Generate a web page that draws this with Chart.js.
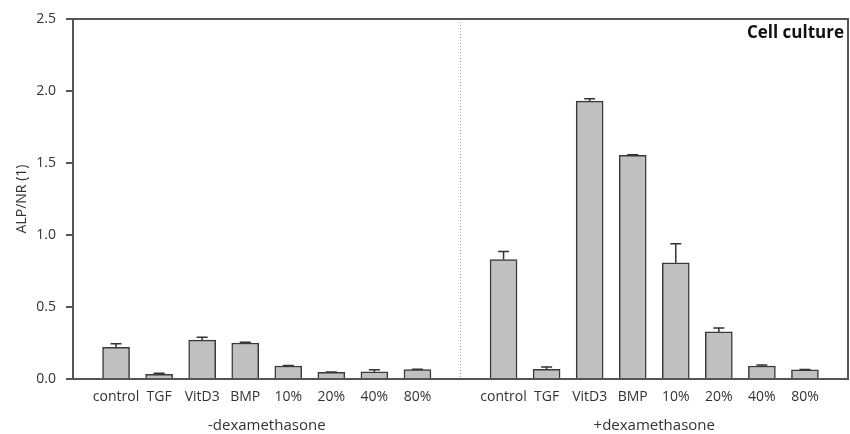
<!DOCTYPE html>
<html>
<head>
<meta charset="utf-8">
<script src="https://cdn.jsdelivr.net/npm/chart.js@4.4.1/dist/chart.umd.min.js"></script>
<style>
  html, body { margin: 0; padding: 0; background: #fff; }
  #wrap { width: 850px; height: 434px; }
</style>
</head>
<body>
<div id="wrap"><canvas id="chart" width="850" height="434"></canvas></div>
<script>
const categories = ['control', 'TGF', 'VitD3', 'BMP', '10%', '20%', '40%', '80%'];
const groupNames = ['-dexamethasone', '+dexamethasone'];

const minusDex = [0.22, 0.033, 0.27, 0.25, 0.09, 0.047, 0.049, 0.065];
const minusDexErr = [0.025, 0.007, 0.02, 0.005, 0.003, 0.002, 0.016, 0.003];
const plusDex = [0.83, 0.067, 1.93, 1.553, 0.807, 0.327, 0.09, 0.063];
const plusDexErr = [0.055, 0.016, 0.017, 0.005, 0.132, 0.027, 0.007, 0.003];

const yTicks = [0, 0.5, 1.0, 1.5, 2.0, 2.5];

// one blank slot on each side and one between the groups
const labels = [''].concat(categories, [''], categories, ['']);
const values = [null].concat(minusDex, [null], plusDex, [null]);
const errors = [null].concat(minusDexErr, [null], plusDexErr, [null]);

const font = '"Open Sans", "DejaVu Sans", sans-serif';

const extras = {
    id: 'extras',
    afterDatasetsDraw(chart) {
        const ctx = chart.ctx;
        const a = chart.chartArea;
        const x = chart.scales.x;
        const y = chart.scales.y;
        ctx.save();

        // error bars (upper only)
        ctx.strokeStyle = '#333';
        ctx.lineWidth = 1.5;
        errors.forEach((e, i) => {
            if (e == null) return;
            const px = x.getPixelForValue(i);
            const y0 = y.getPixelForValue(values[i]);
            const y1 = y.getPixelForValue(values[i] + e);
            ctx.beginPath();
            ctx.moveTo(px, y0);
            ctx.lineTo(px, y1);
            ctx.moveTo(px - 5.5, y1);
            ctx.lineTo(px + 5.5, y1);
            ctx.stroke();
        });

        // dotted separator between groups
        const mid = x.getPixelForValue(categories.length + 1);
        ctx.strokeStyle = '#999';
        ctx.lineWidth = 1;
        ctx.setLineDash([1, 2]);
        ctx.beginPath();
        ctx.moveTo(mid, a.top);
        ctx.lineTo(mid, a.bottom);
        ctx.stroke();
        ctx.setLineDash([]);

        // frame
        ctx.strokeStyle = '#555';
        ctx.lineWidth = 2;
        ctx.strokeRect(a.left, a.top, a.right - a.left, a.bottom - a.top);

        // panel title
        ctx.fillStyle = '#111';
        ctx.font = 'bold 17px ' + font;
        ctx.textAlign = 'right';
        ctx.textBaseline = 'middle';
        ctx.fillText('Cell culture', a.right - 4, a.top + 14);

        // group labels
        ctx.fillStyle = '#333';
        ctx.font = '15px ' + font;
        ctx.textAlign = 'center';
        const n = categories.length;
        const c1 = (x.getPixelForValue(1) + x.getPixelForValue(n)) / 2;
        const c2 = (x.getPixelForValue(n + 2) + x.getPixelForValue(2 * n + 1)) / 2;
        ctx.fillText(groupNames[0], c1, 426);
        ctx.fillText(groupNames[1], c2, 426);

        ctx.restore();
    }
};

new Chart(document.getElementById('chart').getContext('2d'), {
    type: 'bar',
    data: {
        labels: labels,
        datasets: [{
            data: values,
            backgroundColor: '#c0c0c0',
            borderColor: '#3a3a3a',
            borderWidth: 1.5,
            barThickness: 27
        }]
    },
    options: {
        responsive: false,
        animation: false,
        layout: { padding: { top: 19, right: 1, left: 0, bottom: 0 } },
        plugins: {
            legend: { display: false },
            tooltip: { enabled: false }
        },
        scales: {
            x: {
                offset: false,
                grid: { display: false },
                border: { display: false },
                ticks: {
                    color: '#333',
                    font: { family: font, size: 14 },
                    padding: 2,
                    autoSkip: false,
                    maxRotation: 0
                },
                afterFit: s => { s.height = 55; }
            },
            y: {
                min: 0,
                max: 2.5,
                afterBuildTicks: s => { s.ticks = yTicks.map(v => ({ value: v })); },
                grid: {
                    drawOnChartArea: false,
                    drawTicks: true,
                    tickLength: 7,
                    color: '#555',
                    lineWidth: 2
                },
                border: { display: false },
                ticks: {
                    color: '#333',
                    font: { family: font, size: 14 },
                    padding: 10,
                    callback: v => v.toFixed(1)
                },
                title: {
                    display: true,
                    text: 'ALP/NR (1)',
                    color: '#333',
                    font: { family: font, size: 14 },
                    padding: { top: 14, bottom: 4 }
                },
                afterFit: s => { s.width = 73; }
            }
        }
    },
    plugins: [extras]
});
</script>
</body>
</html>
